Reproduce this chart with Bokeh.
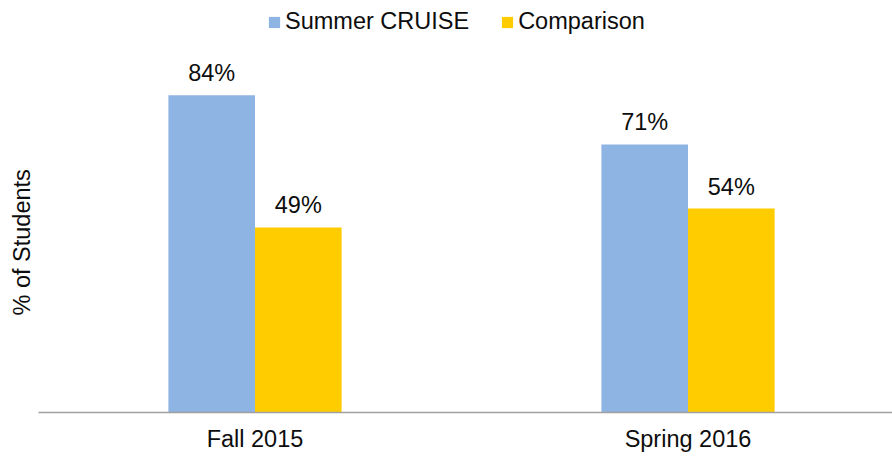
from bokeh.plotting import figure
from bokeh.models import Range1d, FixedTicker, ColumnDataSource, Legend, LegendItem, Title
from bokeh.transform import dodge
from bokeh.core.properties import value
from bokeh.embed import file_html
from bokeh.resources import INLINE

categories = ["Fall 2015", "Spring 2016"]
summer_cruise = [84, 71]
comparison = [49, 54]
series_names = ["Summer CRUISE", "Comparison"]
y_title = "% of Students"
colors = ["#8EB4E3", "#FFCC00"]

FONT = "Liberation Sans"
FS = "23.5px"
TXT = "#0D0D0D"

xpos = [i + 0.5 for i in range(len(categories))]
src = ColumnDataSource(dict(
    x=xpos, cat=categories, s1=summer_cruise, s2=comparison,
    l1=[f"{v}%" for v in summer_cruise], l2=[f"{v}%" for v in comparison],
))

p = figure(width=892, height=456, output_backend="svg", toolbar_location=None,
           x_range=Range1d(0, 854 / 433), y_range=Range1d(0, 412 / 3.776),
           min_border_left=38, min_border_right=0, min_border_top=0, min_border_bottom=44)
p.outline_line_color = None
p.xgrid.visible = False
p.ygrid.visible = False
p.background_fill_color = "white"
p.border_fill_color = "white"

bw = 0.2
r1 = p.vbar(x=dodge("x", -bw / 2, range=p.x_range), top="s1", width=bw, source=src,
            fill_color=colors[0], line_color=None)
r2 = p.vbar(x=dodge("x", bw / 2, range=p.x_range), top="s2", width=bw, source=src,
            fill_color=colors[1], line_color=None)

for col, lab, off in (("s1", "l1", -bw / 2), ("s2", "l2", bw / 2)):
    p.text(x=dodge("x", off, range=p.x_range), y=col, text=lab, source=src,
           text_align="center", text_baseline="alphabetic", y_offset=-22,
           text_font=value(FONT), text_font_size=FS, text_color=TXT)

# x axis
xa = p.xaxis[0]
xa.ticker = FixedTicker(ticks=xpos)
xa.major_label_overrides = {x: c for x, c in zip(xpos, categories)}
xa.major_tick_out = 0
xa.major_tick_in = 0
xa.minor_tick_out = 0
xa.minor_tick_in = 0
xa.axis_line_color = "#A0A0A0"
xa.axis_line_width = 1.5
xa.major_label_text_font = FONT
xa.major_label_text_font_size = FS
xa.major_label_text_color = TXT
xa.major_label_standoff = 13

# y axis hidden; its title drawn as a left-side title placed like the reference
p.yaxis.visible = False
p.add_layout(Title(text=y_title, align="left", offset=97, standoff=7,
                   text_font=FONT, text_font_size=FS, text_font_style="normal",
                   text_color=TXT), "left")

legend = Legend(items=[LegendItem(label=series_names[0], renderers=[r1]),
                       LegendItem(label=series_names[1], renderers=[r2])],
                location=(229, 377), orientation="horizontal",
                glyph_width=14, glyph_height=14, label_standoff=4, spacing=31,
                padding=0, margin=0, border_line_color=None,
                background_fill_alpha=0,
                label_text_font=FONT, label_text_font_size=FS, label_text_color=TXT)
p.add_layout(legend, "center")

open("out.html", "w").write(file_html(p, INLINE))
